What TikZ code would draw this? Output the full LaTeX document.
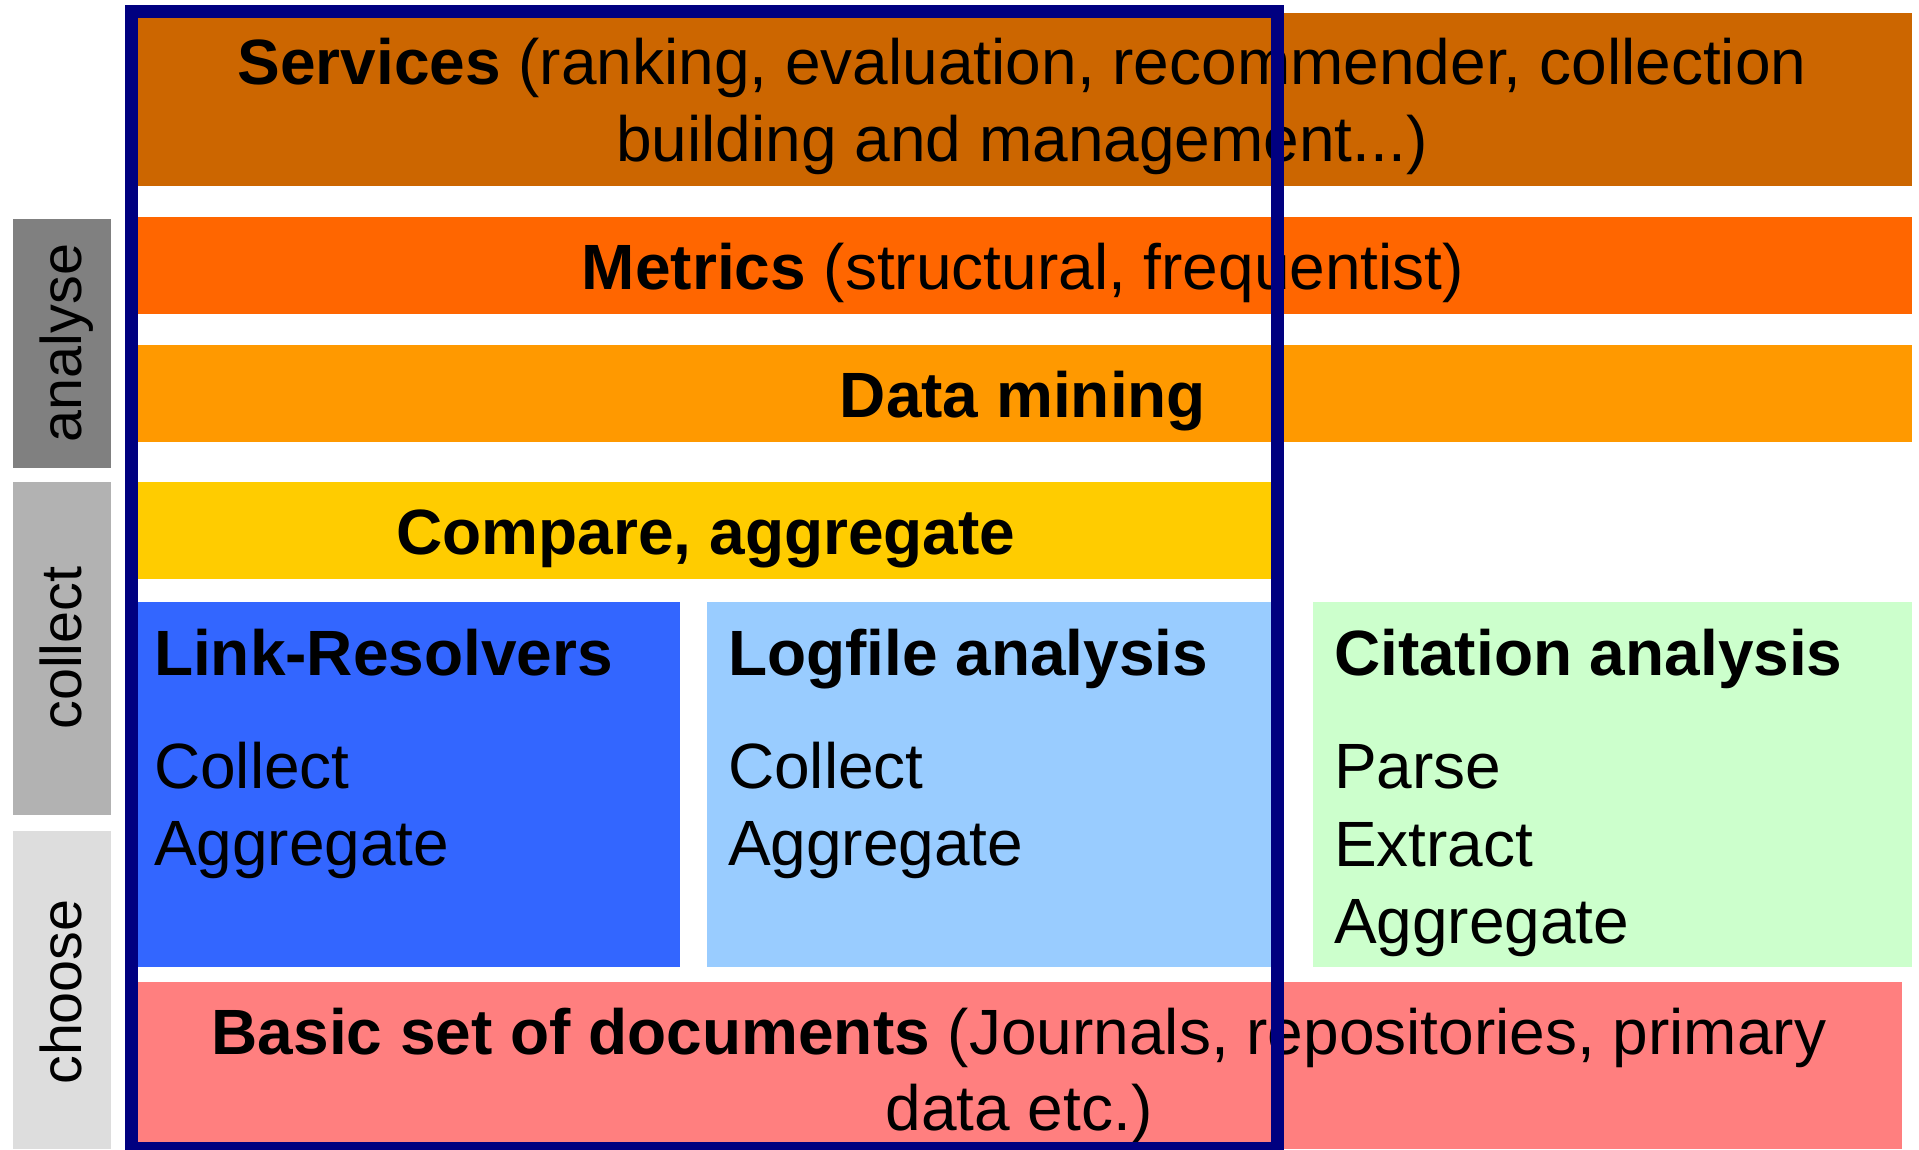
\documentclass[tikz,border=0pt]{standalone}
\usepackage{fontspec}
\setmainfont{Liberation Sans}
\definecolor{cSvc}{HTML}{CC6600}
\definecolor{cMet}{HTML}{FF6600}
\definecolor{cDm}{HTML}{FF9900}
\definecolor{cCmp}{HTML}{FFCC00}
\definecolor{cLink}{HTML}{3366FF}
\definecolor{cLog}{HTML}{99CCFF}
\definecolor{cCit}{HTML}{CCFFCC}
\definecolor{cBasic}{HTML}{FF7F7F}
\definecolor{cFrame}{HTML}{000080}
\definecolor{cAna}{HTML}{808080}
\definecolor{cCol}{HTML}{B2B2B2}
\definecolor{cCho}{HTML}{DDDDDD}
\tikzset{
  layerbox/.style={draw=none, inner sep=0pt, outer sep=0pt, anchor=north west},
  maintext/.style={inner sep=0pt, outer sep=0pt, anchor=base, font=\fontsize{64}{77.5}\selectfont},
  lefttext/.style={inner sep=0pt, outer sep=0pt, anchor=base west, font=\fontsize{64}{77.5}\selectfont},
  sidetext/.style={inner sep=0pt, outer sep=0pt, anchor=base, rotate=90, font=\fontsize{57.5}{60}\selectfont},
}
\begin{document}
\begin{tikzpicture}[x=1pt,y=-1pt]
\useasboundingbox (0,0) rectangle (1919,1149);
% side labels
\node[layerbox, fill=cAna, minimum width=98pt, minimum height=249pt] (ana) at (13,219) {};
\node[layerbox, fill=cCol, minimum width=98pt, minimum height=333pt] (col) at (13,482) {};
\node[layerbox, fill=cCho, minimum width=98pt, minimum height=318pt] (cho) at (13,831) {};
\node[sidetext] (anat) at (81.5,343) {analyse};
\node[sidetext] (colt) at (81.5,648) {collect};
\node[sidetext] (chot) at (81.5,992) {choose};
% layers
\node[layerbox, fill=cSvc, minimum width=1780.5pt, minimum height=173.2pt] (svc) at (131,12.5) {};
\node[layerbox, fill=cMet, minimum width=1780.5pt, minimum height=96.7pt] (met) at (131,217) {};
\node[layerbox, fill=cDm, minimum width=1780.5pt, minimum height=96.7pt] (dm) at (131,345) {};
\node[layerbox, fill=cCmp, minimum width=1140pt, minimum height=96.7pt] (cmp) at (131,482) {};
\node[layerbox, fill=cLink, minimum width=549pt, minimum height=365pt] (link) at (131,602) {};
\node[layerbox, fill=cLog, minimum width=564.3pt, minimum height=365pt] (logf) at (706.7,602) {};
\node[layerbox, fill=cCit, minimum width=598.5pt, minimum height=365pt] (cit) at (1313,602) {};
\node[layerbox, fill=cBasic, minimum width=1771pt, minimum height=167pt] (basic) at (131,982) {};
% texts
\node[maintext] (svc1) at (1022,84) {\textbf{Services} (ranking, evaluation, recommender, collection};
\node[maintext] (svc2) at (1022,161.7) {building and management...)};
\node[maintext] (mett) at (1023,289.5) {\textbf{Metrics} (structural, frequentist)};
\node[maintext] (dmt) at (1023,417.5) {\textbf{Data mining}};
\node[maintext] (cmpt) at (706,554) {\textbf{Compare, aggregate}};
\node[lefttext] (linkh) at (154,675) {\textbf{Link-Resolvers}};
\node[lefttext] (link1) at (154,788) {Collect};
\node[lefttext] (link2) at (154,865.5) {Aggregate};
\node[lefttext] (logh) at (728,675) {\textbf{Logfile analysis}};
\node[lefttext] (log1) at (728,788) {Collect};
\node[lefttext] (log2) at (728,865.5) {Aggregate};
\node[lefttext] (cith) at (1334,675) {\textbf{Citation analysis}};
\node[lefttext] (cit1) at (1334,788.5) {Parse};
\node[lefttext] (cit2) at (1334,866) {Extract};
\node[lefttext] (cit3) at (1334,943.5) {Aggregate};
\node[maintext] (bas1) at (1019,1054) {\textbf{Basic set of documents} (Journals, repositories, primary};
\node[maintext] (bas2) at (1019,1130) {data etc.)};
% frame
\node[layerbox, draw=cFrame, line width=13pt, minimum width=1146pt, minimum height=1136.6pt] (frame) at (131,11.4) {};
\end{tikzpicture}
\end{document}
